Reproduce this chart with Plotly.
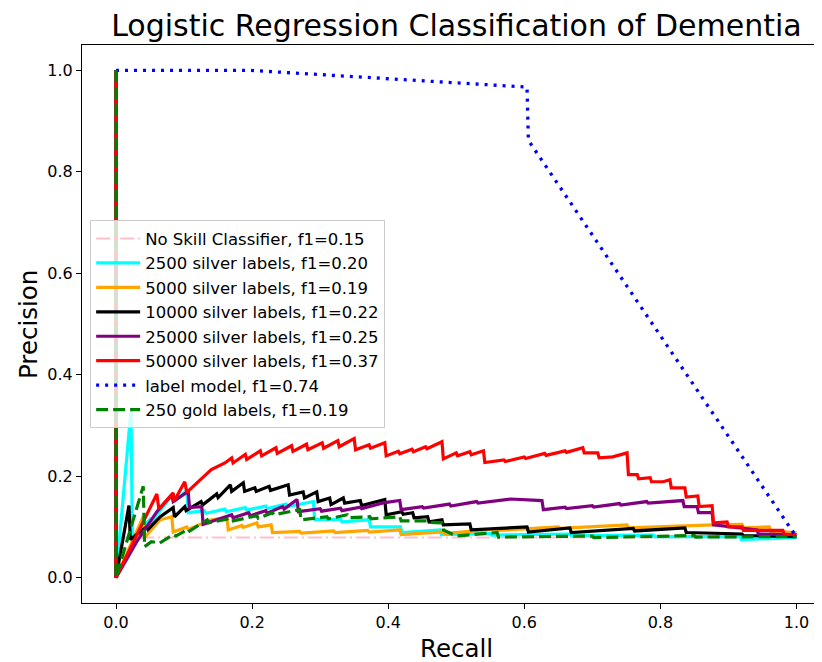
import plotly.graph_objects as go

# ---- data: (recall, precision) pairs ----
NO_SKILL = [(0.0, 0.079), (1.0, 0.079)]

CYAN_2500 = [(0, 1.0), (0, 0.0), (0.022, 0.330), (0.024, 0.080), (0.050, 0.115), (0.052, 0.110),
             (0.084, 0.165), (0.086, 0.150), (0.104, 0.172), (0.106, 0.128), (0.130, 0.132),
             (0.132, 0.127), (0.160, 0.135), (0.162, 0.130), (0.190, 0.138), (0.192, 0.133),
             (0.220, 0.141), (0.222, 0.136), (0.250, 0.145), (0.252, 0.140), (0.290, 0.150),
             (0.292, 0.115), (0.330, 0.115), (0.332, 0.110), (0.372, 0.114), (0.374, 0.100),
             (0.418, 0.100), (0.420, 0.089), (0.476, 0.094), (0.478, 0.085), (0.550, 0.087),
             (0.552, 0.084), (0.667, 0.086), (0.669, 0.083), (0.790, 0.084), (0.792, 0.081),
             (0.917, 0.081), (0.919, 0.075), (1.0, 0.079)]

ORANGE_5000 = [(0, 1.0), (0, 0.0), (0.040, 0.120), (0.042, 0.079), (0.065, 0.114), (0.082, 0.120),
               (0.084, 0.090), (0.104, 0.100), (0.106, 0.095), (0.140, 0.114), (0.163, 0.118),
               (0.165, 0.094), (0.185, 0.103), (0.187, 0.099), (0.207, 0.108), (0.209, 0.100),
               (0.228, 0.104), (0.230, 0.089), (0.270, 0.091), (0.272, 0.088), (0.320, 0.092),
               (0.322, 0.089), (0.370, 0.093), (0.372, 0.090), (0.417, 0.094), (0.419, 0.085),
               (0.480, 0.090), (0.482, 0.087), (0.560, 0.096), (0.562, 0.093), (0.650, 0.100),
               (0.652, 0.097), (0.751, 0.104), (0.753, 0.098), (0.877, 0.104), (0.920, 0.105),
               (0.922, 0.098), (0.960, 0.100), (0.962, 0.091), (1.0, 0.089)]

BLACK_10000 = [(0, 1.0), (0, 0.0), (0.019, 0.142), (0.021, 0.075), (0.045, 0.100), (0.047, 0.095),
               (0.065, 0.120), (0.084, 0.138), (0.086, 0.120), (0.101, 0.140), (0.103, 0.132),
               (0.125, 0.150), (0.127, 0.143), (0.148, 0.165), (0.150, 0.158), (0.168, 0.183),
               (0.170, 0.170), (0.187, 0.187), (0.189, 0.170), (0.204, 0.177), (0.206, 0.170),
               (0.225, 0.180), (0.227, 0.172), (0.253, 0.183), (0.255, 0.163), (0.275, 0.169),
               (0.277, 0.157), (0.295, 0.169), (0.297, 0.150), (0.314, 0.157), (0.316, 0.144),
               (0.334, 0.157), (0.336, 0.147), (0.359, 0.152), (0.361, 0.142), (0.395, 0.154),
               (0.397, 0.124), (0.420, 0.130), (0.422, 0.125), (0.436, 0.128), (0.438, 0.118),
               (0.458, 0.120), (0.460, 0.110), (0.479, 0.114), (0.481, 0.104), (0.520, 0.106),
               (0.522, 0.094), (0.604, 0.100), (0.606, 0.090), (0.667, 0.098), (0.669, 0.089),
               (0.760, 0.097), (0.762, 0.092), (0.836, 0.098), (0.838, 0.089), (0.920, 0.086),
               (0.922, 0.083), (1.0, 0.081)]

PURPLE_25000 = [(0, 1.0), (0, 0.0), (0.030, 0.070), (0.060, 0.130), (0.082, 0.163), (0.084, 0.150),
                (0.106, 0.170), (0.108, 0.138), (0.126, 0.140), (0.128, 0.105), (0.150, 0.115),
                (0.170, 0.124), (0.172, 0.118), (0.195, 0.128), (0.197, 0.122), (0.220, 0.132),
                (0.222, 0.127), (0.245, 0.140), (0.247, 0.135), (0.266, 0.154), (0.268, 0.130),
                (0.300, 0.136), (0.302, 0.131), (0.330, 0.137), (0.332, 0.132), (0.359, 0.139),
                (0.361, 0.136), (0.395, 0.148), (0.417, 0.152), (0.419, 0.134), (0.450, 0.140),
                (0.452, 0.137), (0.490, 0.145), (0.492, 0.141), (0.530, 0.150), (0.532, 0.147),
                (0.580, 0.155), (0.626, 0.152), (0.628, 0.134), (0.660, 0.139), (0.662, 0.136),
                (0.700, 0.142), (0.702, 0.139), (0.740, 0.146), (0.742, 0.143), (0.780, 0.150),
                (0.782, 0.147), (0.833, 0.152), (0.835, 0.140), (0.854, 0.140), (0.856, 0.128),
                (0.876, 0.128), (0.878, 0.104), (0.920, 0.098), (0.942, 0.094), (0.944, 0.086),
                (1.0, 0.085)]

RED_50000 = [(0, 1.0), (0, 0.0), (0.060, 0.165), (0.063, 0.135), (0.084, 0.167), (0.085, 0.150),
             (0.101, 0.189), (0.104, 0.168), (0.140, 0.213), (0.160, 0.226), (0.170, 0.236),
             (0.172, 0.226), (0.190, 0.243), (0.192, 0.233), (0.212, 0.250), (0.214, 0.240),
             (0.235, 0.256), (0.237, 0.245), (0.258, 0.260), (0.260, 0.249), (0.280, 0.263),
             (0.282, 0.252), (0.303, 0.266), (0.305, 0.255), (0.326, 0.270), (0.328, 0.258),
             (0.350, 0.274), (0.352, 0.252), (0.372, 0.262), (0.374, 0.255), (0.395, 0.266),
             (0.397, 0.240), (0.415, 0.249), (0.417, 0.244), (0.435, 0.253), (0.437, 0.248),
             (0.455, 0.258), (0.457, 0.254), (0.479, 0.268), (0.481, 0.234), (0.500, 0.246),
             (0.502, 0.240), (0.520, 0.248), (0.522, 0.242), (0.540, 0.250), (0.542, 0.227),
             (0.570, 0.232), (0.572, 0.229), (0.600, 0.238), (0.602, 0.235), (0.630, 0.245),
             (0.632, 0.241), (0.660, 0.250), (0.662, 0.247), (0.686, 0.256), (0.688, 0.246),
             (0.708, 0.246), (0.710, 0.236), (0.730, 0.238), (0.751, 0.246), (0.753, 0.203),
             (0.766, 0.203), (0.768, 0.195), (0.785, 0.197), (0.787, 0.189), (0.804, 0.189),
             (0.814, 0.193), (0.816, 0.177), (0.836, 0.177), (0.838, 0.159), (0.855, 0.161),
             (0.857, 0.140), (0.876, 0.142), (0.878, 0.108), (0.898, 0.110), (0.900, 0.100),
             (0.920, 0.100), (0.922, 0.093), (0.980, 0.093), (0.982, 0.085), (1.0, 0.085)]

LABEL_MODEL = [(0, 1.0), (0.197, 1.0), (0.604, 0.967), (0.606, 0.862), (1.0, 0.080)]

GOLD_250 = [(0, 1.0), (0, 0.0), (0.040, 0.180), (0.042, 0.061), (0.052, 0.071), (0.064, 0.068),
            (0.084, 0.085), (0.088, 0.082), (0.104, 0.094), (0.106, 0.090), (0.134, 0.114),
            (0.136, 0.108), (0.163, 0.115), (0.165, 0.110), (0.207, 0.122), (0.209, 0.117),
            (0.230, 0.128), (0.232, 0.124), (0.270, 0.134), (0.272, 0.114), (0.310, 0.120),
            (0.312, 0.116), (0.340, 0.124), (0.342, 0.118), (0.373, 0.120), (0.375, 0.116),
            (0.417, 0.120), (0.419, 0.112), (0.461, 0.112), (0.463, 0.109), (0.479, 0.108),
            (0.481, 0.094), (0.500, 0.082), (0.560, 0.089), (0.562, 0.080), (0.700, 0.082),
            (0.702, 0.079), (0.850, 0.083), (0.852, 0.080), (1.0, 0.081)]

LABELS = ["No Skill Classifier, f1=0.15", "2500 silver labels, f1=0.20",
          "5000 silver labels, f1=0.19", "10000 silver labels, f1=0.22",
          "25000 silver labels, f1=0.25", "50000 silver labels, f1=0.37",
          "label model, f1=0.74", "250 gold labels, f1=0.19"]

SERIES = [NO_SKILL, CYAN_2500, ORANGE_5000, BLACK_10000, PURPLE_25000, RED_50000,
          LABEL_MODEL, GOLD_250]
COLORS = ["#FFC0CB", "#00FFFF", "#FFA500", "#000000", "#800080", "#FF0000", "#0000FF", "#008000"]
DASHES = ["14px,4px,2px,4px", "solid", "solid", "solid", "solid", "solid", "3px,6px", "12px,5px"]
WIDTHS = [2, 3.2, 3.2, 3.2, 3.2, 3.2, 3.3, 3.2]

FONT = "DejaVu Sans"

fig = go.Figure()
for pts, name, col, dash, w in zip(SERIES, LABELS, COLORS, DASHES, WIDTHS):
    fig.add_trace(go.Scatter(
        x=[p[0] for p in pts], y=[p[1] for p in pts], mode="lines", name=name,
        line=dict(color=col, dash=dash, width=w), hoverinfo="skip"))

# The page body has an 8px default margin, so the figure is 8px smaller
W, H = 814, 654
fig.update_layout(
    width=W, height=H,
    margin=dict(l=74, r=0, t=37, b=59),
    paper_bgcolor="white", plot_bgcolor="white",
    font=dict(family=FONT, size=16, color="black"),
    showlegend=True,
    title=dict(text="Logistic Regression Classification of Dementia",
               x=0.506, xref="paper", xanchor="center",
               y=1 - 17 / H, yref="container", yanchor="middle",
               font=dict(family=FONT, size=30, color="black")),
    legend=dict(x=0.011, y=0.686, xanchor="left", yanchor="top",
                bgcolor="rgba(255,255,255,0.8)", bordercolor="#cccccc", borderwidth=1,
                font=dict(family=FONT, size=16.5, color="black"), itemwidth=44),
    xaxis=dict(range=[-0.05, 1.0375], showgrid=False, zeroline=False,
               showline=True, linecolor="black", linewidth=1.2, mirror=True,
               ticks="outside", ticklen=5, tickwidth=1.2, tickcolor="black",
               tickvals=[0, 0.2, 0.4, 0.6, 0.8, 1.0], tickformat=".1f",
               tickfont=dict(family=FONT, size=16)),
    yaxis=dict(range=[-0.05, 1.05], showgrid=False, zeroline=False,
               showline=True, linecolor="black", linewidth=1.2,
               ticks="outside", ticklen=5, tickwidth=1.2, tickcolor="black",
               tickvals=[0, 0.2, 0.4, 0.6, 0.8, 1.0], tickformat=".1f",
               tickfont=dict(family=FONT, size=16)),
    annotations=[
        dict(text="Recall", xref="paper", yref="paper", x=0.506, y=-0.082,
             xanchor="center", yanchor="middle", showarrow=False,
             font=dict(family=FONT, size=24.5, color="black")),
        dict(text="Precision", xref="paper", yref="paper", x=-0.073, y=0.5,
             xanchor="center", yanchor="middle", showarrow=False, textangle=-90,
             font=dict(family=FONT, size=24.5, color="black")),
    ],
)

fig.write_html("out.html", config={"displayModeBar": False})
